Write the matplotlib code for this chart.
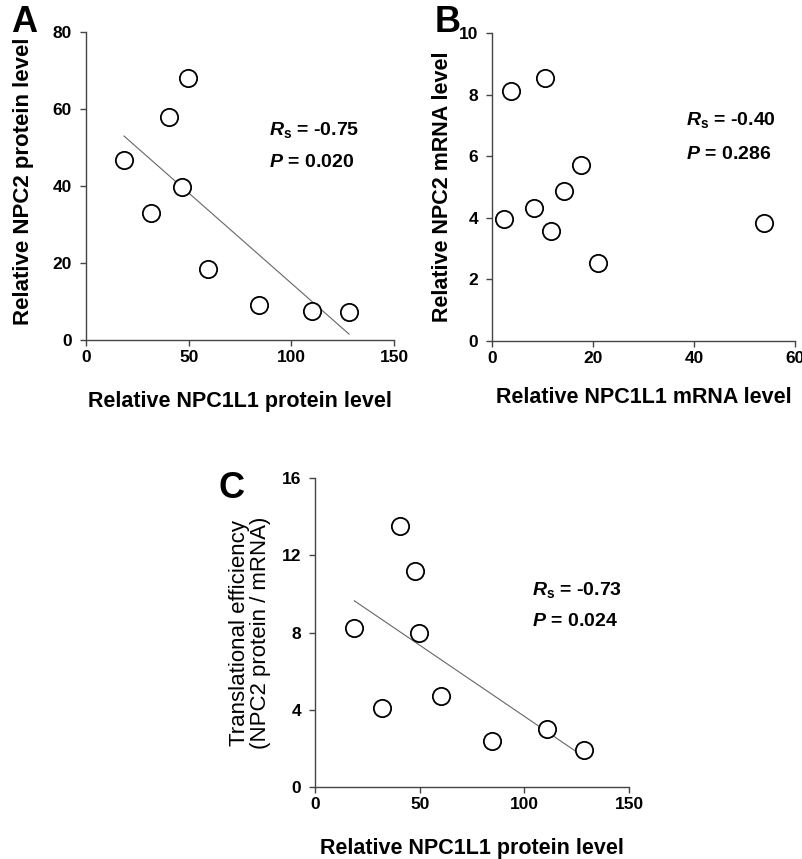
import matplotlib.pyplot as plt
import numpy as np

plt.rcParams['font.family'] = ['Liberation Sans', 'DejaVu Sans']
plt.rcParams['font.weight'] = 'bold'
plt.rcParams['axes.labelweight'] = 'bold'
plt.rcParams['mathtext.fontset'] = 'custom'
plt.rcParams['mathtext.rm'] = 'Liberation Sans:bold'
plt.rcParams['mathtext.bf'] = 'Liberation Sans:bold'
plt.rcParams['mathtext.it'] = 'Liberation Sans:bold:italic'

# Panel A: NPC1L1 protein vs NPC2 protein
a_x = [18.5, 31.7, 40.4, 46.9, 49.8, 59.6, 84.3, 110.2, 128.1]
a_y = [46.8, 32.9, 57.9, 39.7, 68.1, 18.5, 9.0, 7.4, 7.3]

# Panel B: NPC1L1 mRNA vs NPC2 mRNA
b_x = [2.4, 3.7, 10.5, 8.3, 11.7, 14.2, 17.7, 21.0, 53.9]
b_y = [3.96, 8.11, 8.55, 4.31, 3.58, 4.87, 5.72, 2.52, 3.84]

# Panel C: NPC1L1 protein vs translational efficiency
c_x = [18.8, 31.8, 40.8, 47.6, 49.7, 60.2, 84.6, 110.8, 128.5]
c_y = [8.25, 4.1, 13.5, 11.2, 8.0, 4.7, 2.4, 3.0, 1.9]

fig = plt.figure(figsize=(8.03, 8.59), dpi=100)
axA = fig.add_axes([0.1071, 0.6042, 0.3836, 0.3586])
axB = fig.add_axes([0.6127, 0.6030, 0.3773, 0.3586])
axC = fig.add_axes([0.3923, 0.0838, 0.3910, 0.3597])


def style(ax, xlim, xticks, ylim, yticks):
    ax.set_xlim(xlim)
    ax.set_ylim(ylim)
    ax.set_xticks(xticks)
    ax.set_yticks(yticks)
    for s in ['top', 'right']:
        ax.spines[s].set_visible(False)
    for s in ['left', 'bottom']:
        ax.spines[s].set_color('#444444')
        ax.spines[s].set_linewidth(1.0)
    ax.tick_params(direction='out', length=4, width=1, color='#444444',
                   labelsize=12.5)
    ax.tick_params(axis='x', pad=3)
    ax.tick_params(axis='y', pad=6)


def scatter_fit(ax, x, y, fit):
    if fit:
        k, b = np.polyfit(x, y, 1)
        xs = np.array([min(x), max(x)])
        ax.plot(xs, k * xs + b, color='#666666', lw=0.8, zorder=1)
    ax.scatter(x, y, s=155, facecolors='white', edgecolors='black',
               linewidths=1.3, zorder=3, clip_on=False)


scatter_fit(axA, a_x, a_y, True)
style(axA, (0, 150), [0, 50, 100, 150], (0, 80), [0, 20, 40, 60, 80])
axA.set_xlabel('Relative NPC1L1 protein level', fontsize=15.5, labelpad=19)
axA.set_ylabel('Relative NPC2 protein level', fontsize=16)
axA.yaxis.set_label_coords(-0.17, 0.515)
axA.text(89, 54.6, r'$\mathit{R}_\mathrm{s}$ = -0.75', fontsize=14, va='center')
axA.text(89, 46, r'$\mathit{P}$ = 0.020', fontsize=14, va='center')

scatter_fit(axB, b_x, b_y, False)
style(axB, (0, 60), [0, 20, 40, 60], (0, 10), [0, 2, 4, 6, 8, 10])
axB.set_xlabel('Relative NPC1L1 mRNA level', fontsize=15.5, labelpad=15)
axB.set_ylabel('Relative NPC2 mRNA level', fontsize=15.5, labelpad=4)
axB.text(38.5, 7.18, r'$\mathit{R}_\mathrm{s}$ = -0.40', fontsize=14, va='center')
axB.text(38.5, 6.07, r'$\mathit{P}$ = 0.286', fontsize=14, va='center')

scatter_fit(axC, c_x, c_y, True)
style(axC, (0, 150), [0, 50, 100, 150], (0, 16), [0, 4, 8, 12, 16])
axC.set_xlabel('Relative NPC1L1 protein level', fontsize=15.5, labelpad=19)
axC.set_ylabel('Translational efficiency\n(NPC2 protein / mRNA)',
               fontsize=16, fontweight='normal', labelpad=8, linespacing=1.0)
axC.text(103.5, 10.2, r'$\mathit{R}_\mathrm{s}$ = -0.73', fontsize=14, va='center')
axC.text(103.5, 8.58, r'$\mathit{P}$ = 0.024', fontsize=14, va='center')

# panel letters
fig.text(11 / 803, 1 - 22 / 859, 'A', fontsize=26, va='center')
fig.text(435 / 803, 1 - 22 / 859, 'B', fontsize=26, va='center')
fig.text(219 / 803, 1 - 488 / 859, 'C', fontsize=26, va='center')

fig.savefig('out.png', dpi=100, facecolor='white')
